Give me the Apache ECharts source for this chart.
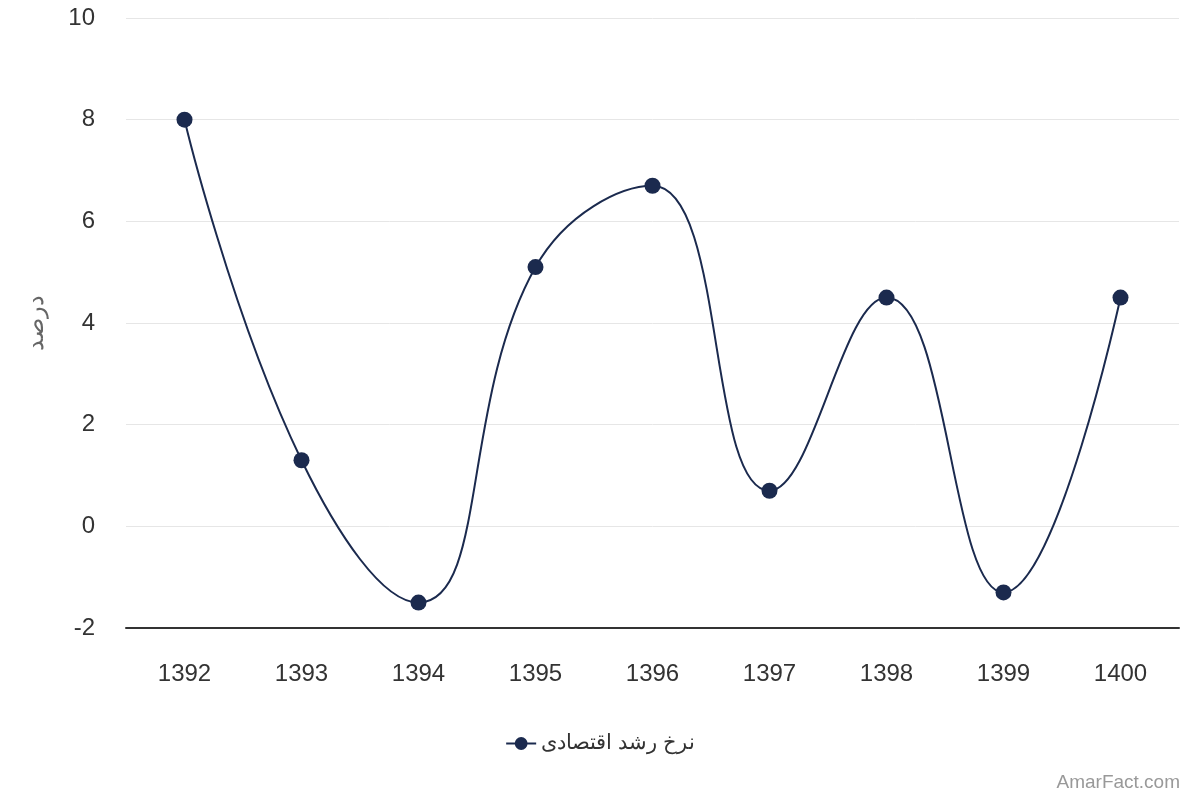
<!DOCTYPE html>
<html><head><meta charset="utf-8">
<script src="https://cdn.jsdelivr.net/npm/echarts@6/dist/echarts.min.js"></script>
<style>html,body{margin:0;padding:0;background:#fff}#c{width:1200px;height:800px}</style>
</head><body><div id="c"></div>
<script>
const categories = ['1392','1393','1394','1395','1396','1397','1398','1399','1400'];
const growthRate = [8, 1.3, -1.5, 5.1, 6.7, 0.7, 4.5, -1.3, 4.5];
const seriesName = 'نرخ رشد اقتصادی';
const yAxisName = 'درصد';
const credit = 'AmarFact.com';
const FONT = '"Liberation Sans", Arial, sans-serif';
const chart = echarts.init(document.getElementById('c'));
chart.setOption({
  animation: false,
  textStyle: {fontFamily: FONT},
  grid: {left: 126, right: 21, top: 18, bottom: 172, containLabel: false},
  legend: {
    bottom: 41, left: 'center', itemWidth: 30, itemHeight: 16, itemGap: 20,
    textStyle: {fontSize: 21, color: '#333', fontFamily: FONT},
    data: [seriesName]
  },
  graphic: [{
    type: 'text', right: 20, bottom: 8,
    style: {text: credit, fontSize: 19, fill: '#999', fontFamily: FONT}
  }],
  xAxis: {
    type: 'category', data: categories, boundaryGap: true,
    axisLine: {onZero: false, lineStyle: {color: '#333', width: 2}},
    axisTick: {show: false},
    axisLabel: {fontSize: 24, color: '#333', margin: 34, fontFamily: FONT}
  },
  yAxis: {
    type: 'value', min: -2, max: 10, interval: 2,
    name: yAxisName, nameLocation: 'middle', nameGap: 78, nameRotate: 90,
    nameTextStyle: {fontSize: 24, color: '#666', fontFamily: FONT},
    axisLine: {show: false}, axisTick: {show: false},
    axisLabel: {fontSize: 24, color: '#333', margin: 31, fontFamily: FONT},
    splitLine: {lineStyle: {color: '#e6e6e6', width: 1}}
  },
  series: [{
    name: seriesName, type: 'line', data: growthRate, smooth: 0.45,
    symbol: 'circle', symbolSize: 16,
    lineStyle: {color: '#1b2a4e', width: 2},
    itemStyle: {color: '#1b2a4e'}
  }]
});
</script></body></html>
